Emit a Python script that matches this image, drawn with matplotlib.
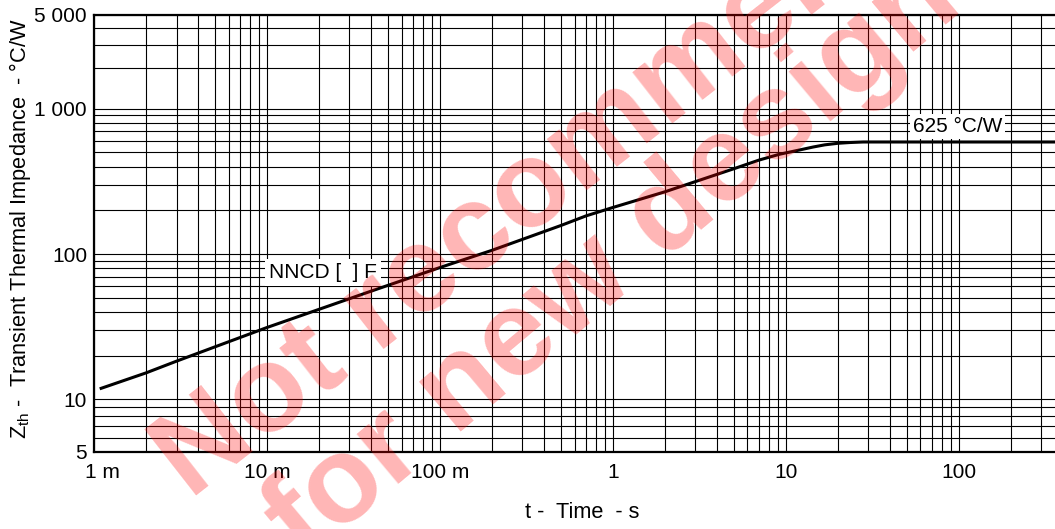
import numpy as np
import matplotlib
matplotlib.use('Agg')
import matplotlib.pyplot as plt
from matplotlib.ticker import LogLocator, NullFormatter
from matplotlib.transforms import ScaledTranslation

plt.rcParams['font.family'] = ['Liberation Sans', 'DejaVu Sans']
plt.rcParams['mathtext.fontset'] = 'custom'
plt.rcParams['mathtext.rm'] = 'Liberation Sans'

# transient thermal impedance curve
time_s = [1.1e-3, 2e-3, 3e-3, 1e-2, 4e-2, 0.1, 0.2, 0.5, 0.7, 1, 2, 5, 7,
          9.2, 12.1, 14.4, 16.8, 20, 23.4, 28, 360]
zth_cw = [11.9, 15.2, 18.3, 31.2, 55.5, 80.7, 106, 157, 183, 209, 268, 386,
          443, 486, 521, 545, 564, 578, 585, 590, 590]

x_ticks = [1e-3, 1e-2, 1e-1, 1, 10, 100]
x_tick_labels = ['1 m', '10 m', '100 m', '1', '10', '100']
y_ticks = [5, 10, 100, 1000, 5000]
y_tick_labels = ['5', '10', '100', '1 000', '5 000']

part_label = 'NNCD [  ] F'
plateau_label = '625 °C/W'
watermark = ['Not recommended', 'for new designs']

# the printed grid is not a clean log grid: the two outer half decades are
# drawn at other heights than the middle ones, so map log10(Z) piecewise
Y_LOG_KNOTS = np.log10([5, 10, 1000, 5000])
Y_PIX_KNOTS = np.array([0.0, 52.4, 343.0, 436.7])


def _piecewise(v, xs, ys):
    v = np.asarray(v, dtype=float)
    out = np.interp(v, xs, ys)
    lo_slope = (ys[1] - ys[0]) / (xs[1] - xs[0])
    hi_slope = (ys[-1] - ys[-2]) / (xs[-1] - xs[-2])
    out = np.where(v < xs[0], ys[0] + (v - xs[0]) * lo_slope, out)
    out = np.where(v > xs[-1], ys[-1] + (v - xs[-1]) * hi_slope, out)
    return out


def y_forward(z):
    z = np.asarray(z, dtype=float)
    with np.errstate(divide='ignore', invalid='ignore'):
        lz = np.log10(np.where(z > 0, z, np.nan))
    return _piecewise(lz, Y_LOG_KNOTS, Y_PIX_KNOTS)


def y_inverse(u):
    with np.errstate(over='ignore'):
        return 10 ** _piecewise(u, Y_PIX_KNOTS, Y_LOG_KNOTS)


W, H = 1055, 529
fig = plt.figure(figsize=(W / 100, H / 100), dpi=100)
ax = fig.add_axes([94 / W, 1 - 451.7 / H, 961 / W, 436.7 / H])

ax.set_xscale('log')
ax.set_yscale('function', functions=(y_forward, y_inverse))
ax.set_xlim(1e-3, 360)
ax.set_ylim(5, 5000)

ax.set_xticks(x_ticks, labels=x_tick_labels)
ax.set_yticks(y_ticks, labels=y_tick_labels)
ax.xaxis.set_minor_locator(LogLocator(base=10, subs=np.arange(2, 10), numticks=40))
ax.yaxis.set_minor_locator(LogLocator(base=10, subs=np.arange(2, 10), numticks=40))
ax.xaxis.set_minor_formatter(NullFormatter())
ax.yaxis.set_minor_formatter(NullFormatter())

ax.grid(which='both', color='black', lw=0.8)
ax.tick_params(which='both', length=0, labelsize=15)
ax.tick_params(axis='x', pad=8)
ax.tick_params(axis='y', pad=5)
for side in ['left', 'top', 'bottom']:
    ax.spines[side].set_linewidth(1.6)
ax.spines['right'].set_visible(False)

# first x label sits a bit to the right of its grid line
first = ax.get_xticklabels()[0]
first.set_transform(first.get_transform() + ScaledTranslation(0.08, 0, fig.dpi_scale_trans))

ax.plot(time_s, zth_cw, color='black', lw=2.2, zorder=3)

ax.text(0.0103, 74.8, part_label, ha='left', va='center', fontsize=15, zorder=4,
        bbox=dict(boxstyle='square,pad=0.2', fc='white', ec='none'))
ax.text(54.2, 752, plateau_label, ha='left', va='center', fontsize=15, zorder=4,
        bbox=dict(boxstyle='square,pad=0.15', fc='white', ec='none'))

ax.set_xlabel('t -  Time  - s', fontsize=15.7)
ax.xaxis.set_label_coords((582 - 94) / 961, (451.7 - 513) / 436.7)
ax.xaxis.label.set_va('center')
ax.set_ylabel(r'Z$_{\rm th}$ -  Transient Thermal Impedance  - °C/W', fontsize=15.7)
ax.yaxis.set_label_coords((20 - 94) / 961, (451.7 - 229) / 436.7)
ax.yaxis.label.set_va('center')

# watermark over the whole chart
for (px, py), angle, line in zip([(593, 145), (640, 240)], [38, 40], watermark):
    fig.text(px / W, 1 - py / H, line, fontsize=88, fontweight='bold', color='red',
             alpha=0.29, rotation=angle, rotation_mode='anchor', ha='center', va='center',
             zorder=10)

fig.savefig('out.png', dpi=100)
